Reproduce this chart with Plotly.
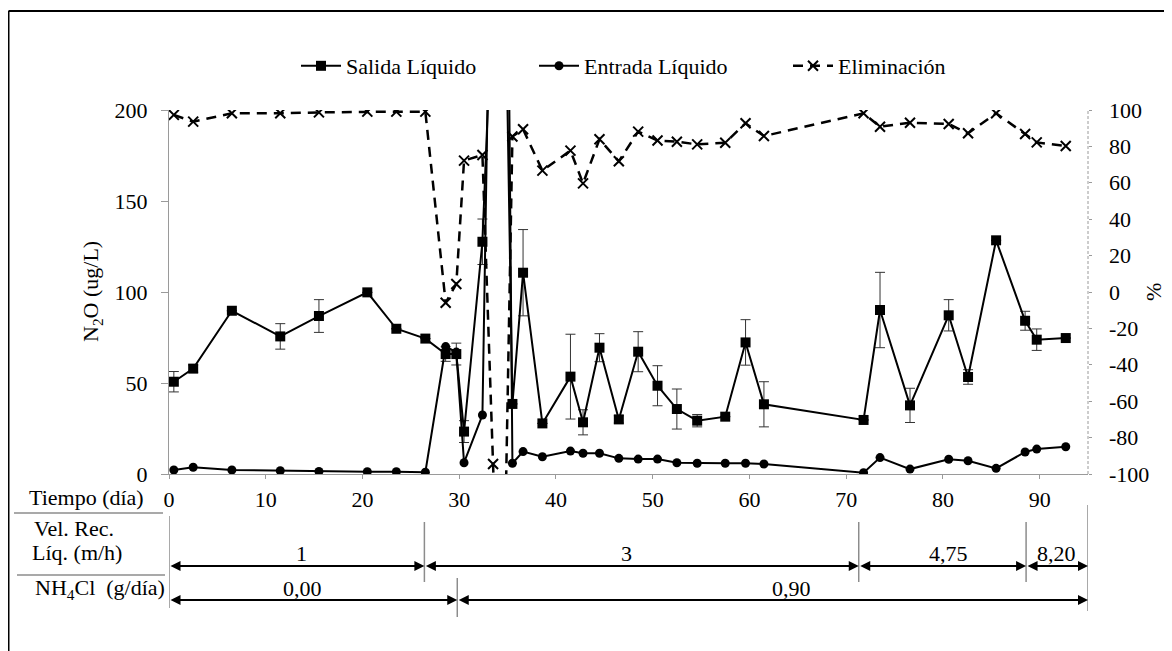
import plotly.graph_objects as go

# ---------------- data ----------------
days = [0.5, 2.5, 6.5, 11.5, 15.5, 20.5, 23.5, 26.5, 28.6, 29.7, 30.5, 32.4, 34.4,
        35.5, 36.6, 38.6, 41.5, 42.8, 44.5, 46.5, 48.5, 50.5, 52.5, 54.6, 57.5,
        59.6, 61.5, 71.8, 73.5, 76.6, 80.6, 82.6, 85.5, 88.5, 89.7, 92.7]

salida = [50.7, 57.9, 89.7, 75.6, 86.8, 99.8, 79.8, 74.4, 65.9, 65.9, 23.3, 127.6, 390,
          38.5, 110.6, 27.8, 53.5, 28.4, 69.4, 30.0, 67.2, 48.5, 35.7, 29.3, 31.5,
          72.3, 38.3, 29.7, 90.1, 37.7, 87.2, 53.3, 128.4, 84.2, 73.8, 74.7]

salida_err = [5.6, 2, 0, 7, 9, 0, 0, 0, 4, 6, 6, 12.5, 0,
              0, 23.7, 0, 23.3, 6.9, 7.7, 2, 11, 11, 11, 3.4, 0,
              12.5, 12.4, 0, 20.7, 9.4, 8.6, 4, 0, 5.2, 5.9, 0]

entrada = [2.2, 3.7, 2.2, 1.8, 1.4, 1.3, 1.3, 1.0, 70, 67, 6.2, 32.4, 680,
           5.9, 12.3, 9.5, 12.6, 11.4, 11.4, 8.6, 8.2, 8.2, 6.2, 5.9, 5.9,
           5.9, 5.5, 0.7, 9.0, 2.7, 8.1, 7.3, 3.1, 12.1, 13.7, 15.0]

elim_days = [0.5, 2.5, 6.5, 11.5, 15.5, 20.5, 23.5, 26.5, 28.6, 29.7, 30.5, 32.4, 33.5,
             34.4, 35.5, 36.6, 38.6, 41.5, 42.8, 44.5, 46.5, 48.5, 50.5, 52.5, 54.6,
             57.5, 59.6, 61.5, 71.8, 73.5, 76.6, 80.6, 82.6, 85.5, 88.5, 89.7, 92.7]

eliminacion = [97.3, 93.6, 98.2, 98.2, 98.7, 99.1, 99.1, 99.1, -5.9, 4.4, 72.2, 75.3, -94.5,
               -234, 85.4, 89.4, 66.7, 77.7, 59.7, 83.9, 71.8, 88.1, 83.2, 82.6, 81.1,
               82.0, 92.7, 85.7, 98.2, 90.8, 93.0, 92.3, 87.2, 98.2, 86.8, 82.2, 80.2]

x_ticks = [0, 10, 20, 30, 40, 50, 60, 70, 80, 90]
y_ticks = [0, 50, 100, 150, 200]
y2_ticks = [-100, -80, -60, -40, -20, 0, 20, 40, 60, 80, 100]

vel_bounds = [0, 26.4, 71.3, 88.6, 95]
vel_labels = ["1", "3", "4,75", "8,20"]
nh4_bounds = [0, 29.8, 95]
nh4_labels = ["0,00", "0,90"]

# ---------------- geometry (page pixels; the page body adds an 8px offset) ----------------
FONT = "Liberation Serif"
FS = 22
OFF = 8
W, H = 1164, 643
P_LEFT, P_RIGHT, P_TOP, P_BOT = 169, 1088, 110, 474   # plot area on the page
L = P_LEFT - OFF
T = P_TOP - OFF
R = W - (P_RIGHT - OFF)
B = H - (P_BOT - OFF)
PW = P_RIGHT - P_LEFT
PH = P_BOT - P_TOP


def py(pix):
    """page y (from top) -> paper y"""
    return (P_BOT - pix) / PH


def px(pix):
    """page x -> paper x"""
    return (pix - P_LEFT) / PW


fig = go.Figure()

fig.add_trace(go.Scatter(
    x=days, y=salida, name="Salida Líquido", mode="lines+markers",
    line=dict(color="black", width=2),
    marker=dict(symbol="square", size=10, color="black"),
    error_y=dict(type="data", array=salida_err, visible=True,
                 color="#333333", thickness=1, width=5),
    legendwidth=183, yaxis="y"))

fig.add_trace(go.Scatter(
    x=days, y=entrada, name="Entrada Líquido", mode="lines+markers",
    line=dict(color="black", width=2),
    marker=dict(symbol="circle", size=9, color="black"),
    legendwidth=199, yaxis="y"))

fig.add_trace(go.Scatter(
    x=elim_days, y=eliminacion, name="Eliminación", mode="lines+markers",
    line=dict(color="black", width=2.5, dash="10px,7px"),
    marker=dict(symbol="x-thin", size=10, color="black",
                line=dict(color="black", width=2)),
    legendwidth=130, yaxis="y2"))

axis_gray = "#9a9a9a"

fig.update_layout(
    width=W, height=H,
    margin=dict(l=L, r=R, t=T, b=B, autoexpand=False),
    paper_bgcolor="white", plot_bgcolor="white",
    font=dict(family=FONT, size=FS, color="black"),
    showlegend=True,
    legend=dict(orientation="h", x=px(296), xanchor="left", y=py(66), yanchor="middle",
                font=dict(family=FONT, size=FS), bgcolor="rgba(0,0,0,0)",
                itemwidth=40),
    xaxis=dict(range=[0, 95], tickvals=x_ticks, showgrid=False, zeroline=False,
               showline=True, linecolor=axis_gray, linewidth=1, automargin=False,
               ticks="outside", ticklen=4, tickcolor=axis_gray,
               ticklabelstandoff=2, tickfont=dict(family=FONT, size=FS)),
    yaxis=dict(range=[0, 200], tickvals=y_ticks, showgrid=False, zeroline=False,
               showline=True, linecolor=axis_gray, linewidth=1, automargin=False,
               ticks="outside", ticklen=7, tickcolor=axis_gray,
               ticklabelstandoff=9, tickfont=dict(family=FONT, size=FS)),
    yaxis2=dict(range=[-100, 100], tickvals=y2_ticks, overlaying="y", side="right",
                showgrid=False, zeroline=False, showline=False, automargin=False,
                ticks="outside", ticklen=3, tickcolor=axis_gray,
                showticklabels=False),
)

shapes = []
annotations = []

# right axis tick labels (left aligned, as in the reference)
for v in y2_ticks:
    annotations.append(dict(text=str(v), xref="paper", yref="y2", x=px(1107), y=v,
                            xanchor="left", yanchor="middle", showarrow=False,
                            font=dict(family=FONT, size=FS)))

# dashed right axis line
shapes.append(dict(type="line", xref="paper", yref="paper", x0=1, x1=1, y0=0, y1=1,
                   line=dict(color=axis_gray, width=1, dash="3px,2px")))

# outer frame (top and left edges visible)
shapes.append(dict(type="line", xref="paper", yref="paper", x0=px(8.5), x1=px(1200),
                   y0=py(11), y1=py(11), line=dict(color="black", width=2)))
shapes.append(dict(type="line", xref="paper", yref="paper", x0=px(8.5), x1=px(8.5),
                   y0=py(11), y1=py(700), line=dict(color="black", width=2)))

# axis titles
annotations.append(dict(text="N<sub>2</sub>O (ug/L)", xref="paper", yref="paper",
                        x=px(92), y=0.5, textangle=-90, showarrow=False,
                        font=dict(family=FONT, size=FS), xanchor="center", yanchor="middle"))
annotations.append(dict(text="%", xref="paper", yref="paper",
                        x=px(1153), y=0.5, textangle=-90, showarrow=False,
                        font=dict(family=FONT, size=FS), xanchor="center", yanchor="middle"))

# table below the x axis
row_tiempo = 497
sep1 = 513
row_vel1, row_vel2 = 528, 552
arrow_vel = 566
sep2 = 575
row_nh4 = 589
arrow_nh4 = 600

annotations.append(dict(text="Tiempo (día)", xref="paper", yref="paper",
                        x=px(146), y=py(row_tiempo), xanchor="right", yanchor="middle",
                        showarrow=False, font=dict(family=FONT, size=FS)))
annotations.append(dict(text="Vel. Rec.", xref="paper", yref="paper",
                        x=px(32), y=py(row_vel1), xanchor="left", yanchor="middle",
                        showarrow=False, font=dict(family=FONT, size=FS)))
annotations.append(dict(text="Líq. (m/h)", xref="paper", yref="paper",
                        x=px(30), y=py(row_vel2), xanchor="left", yanchor="middle",
                        showarrow=False, font=dict(family=FONT, size=FS)))
annotations.append(dict(text="NH<sub>4</sub>Cl  (g/día)", xref="paper", yref="paper",
                        x=px(33), y=py(row_nh4), xanchor="left", yanchor="middle",
                        showarrow=False, font=dict(family=FONT, size=FS)))

sep_gray = "#8c8c8c"
shapes.append(dict(type="line", xref="paper", yref="paper", x0=px(14), x1=px(163),
                   y0=py(sep1), y1=py(sep1), line=dict(color=sep_gray, width=1.5)))
shapes.append(dict(type="line", xref="paper", yref="paper", x0=px(17), x1=px(165),
                   y0=py(sep2), y1=py(sep2), line=dict(color=sep_gray, width=1.5)))
# left vertical line of the table
shapes.append(dict(type="line", xref="x", yref="paper", x0=0, x1=0,
                   y0=py(sep1 + 3), y1=py(608), line=dict(color=sep_gray, width=1.5)))

# velocity row: separators, arrows, labels
vel_label_x = [13.7, 47.3, 80.6, 91.7]
for b in vel_bounds[1:-1]:
    shapes.append(dict(type="line", xref="x", yref="paper", x0=b, x1=b,
                       y0=py(522), y1=py(582), line=dict(color=sep_gray, width=1.5)))
for i in range(len(vel_labels)):
    a, b = vel_bounds[i], vel_bounds[i + 1]
    annotations.append(dict(text="", x=b, y=py(arrow_vel), xref="x", yref="paper",
                            ax=a, ay=0, axref="x", ayref="pixel", showarrow=True,
                            arrowhead=2, arrowside="end+start", arrowsize=1,
                            arrowwidth=2, arrowcolor="black", standoff=0, startstandoff=0))
    annotations.append(dict(text=vel_labels[i], x=vel_label_x[i], y=py(arrow_vel - 13),
                            xref="x", yref="paper", showarrow=False,
                            xanchor="center", yanchor="middle",
                            font=dict(family=FONT, size=FS)))

# NH4Cl row
nh4_label_x = [13.8, 64.4]
for b in nh4_bounds[1:-1]:
    shapes.append(dict(type="line", xref="x", yref="paper", x0=b, x1=b,
                       y0=py(578), y1=py(617), line=dict(color=sep_gray, width=1.5)))
for i in range(len(nh4_labels)):
    a, b = nh4_bounds[i], nh4_bounds[i + 1]
    annotations.append(dict(text="", x=b, y=py(arrow_nh4), xref="x", yref="paper",
                            ax=a, ay=0, axref="x", ayref="pixel", showarrow=True,
                            arrowhead=2, arrowside="end+start", arrowsize=1,
                            arrowwidth=2, arrowcolor="black", standoff=0, startstandoff=0))
    annotations.append(dict(text=nh4_labels[i], x=nh4_label_x[i], y=py(arrow_nh4 - 12),
                            xref="x", yref="paper", showarrow=False,
                            xanchor="center", yanchor="middle",
                            font=dict(family=FONT, size=FS)))

# right end line of the table
shapes.append(dict(type="line", xref="x", yref="paper", x0=95, x1=95,
                   y0=py(505), y1=py(611), line=dict(color=sep_gray, width=1.5)))

fig.update_layout(shapes=shapes, annotations=annotations)

fig.write_html("out.html")
